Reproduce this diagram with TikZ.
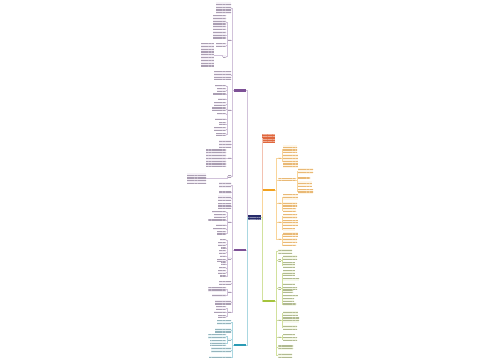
\documentclass[tikz,border=0pt]{standalone}
\usetikzlibrary{patterns.meta}

\definecolor{rootBlue}{HTML}{272C6B}
\definecolor{purpA}{HTML}{7D5196}
\definecolor{tealC}{HTML}{2A9BB5}
\definecolor{boxRed}{HTML}{E0673D}
\definecolor{orngE}{HTML}{F2A11E}
\definecolor{grnF}{HTML}{A5C43C}

\tikzset{sz/.style 2 args={minimum width=#1pt, minimum height=#2pt}}

\begin{document}
\begin{tikzpicture}[x=1pt, y=-1pt]
	\tikzstyle{baseStyle}=[rectangle, inner sep=0pt, outer sep=0pt, draw=none]
	\tikzstyle{rootStyle}=[baseStyle, preaction={fill=rootBlue}, pattern={Lines[distance=2.2pt, line width=0.7pt]}, pattern color=rootBlue!55!white]
	\tikzstyle{branchStyle}=[baseStyle]
	\tikzstyle{boxStyle}=[baseStyle, preaction={fill=boxRed}, pattern={Lines[distance=2.4pt, line width=0.9pt]}, pattern color=boxRed!55!white]
	\tikzstyle{leafP}=[baseStyle, preaction={fill=purpA!8}, pattern={Lines[distance=2.8pt, line width=1.3pt]}, pattern color=purpA!45!gray!65]
	\tikzstyle{leafT}=[baseStyle, preaction={fill=tealC!8}, pattern={Lines[distance=2.8pt, line width=1.3pt]}, pattern color=tealC!45!gray!65]
	\tikzstyle{leafO}=[baseStyle, preaction={fill=orngE!10}, pattern={Lines[distance=2.8pt, line width=1.3pt]}, pattern color=orngE!60!brown!65]
	\tikzstyle{leafG}=[baseStyle, preaction={fill=grnF!10}, pattern={Lines[distance=2.8pt, line width=1.3pt]}, pattern color=grnF!60!black!50]
	\tikzstyle{linkP}=[draw=purpA!35, line width=0.4pt]
	\tikzstyle{linkT}=[draw=tealC!40, line width=0.4pt]
	\tikzstyle{linkR}=[draw=boxRed!40, line width=0.4pt]
	\tikzstyle{linkO}=[draw=orngE!45, line width=0.4pt]
	\tikzstyle{linkG}=[draw=grnF!50, line width=0.4pt]

	\fill[white] (0,0) rectangle (500,360);
	\useasboundingbox (0,0) rectangle (500,360);

	% centre and main branches
	\node[rootStyle, sz={13}{4.5}] (root) at (254.5,217.5) {};
	\node[branchStyle, fill=purpA, sz={12}{3}] (pa) at (240,90) {};
	\node[branchStyle, fill=purpA, sz={12}{2.5}] (pb) at (240,250) {};
	\node[branchStyle, fill=tealC, sz={12}{2.5}] (tc) at (240,345) {};
	\node[boxStyle, sz={12.5}{8.5}] (rd) at (268.5,138.5) {};
	\node[branchStyle, fill=orngE, sz={12}{2.2}] (oe) at (268.5,190.3) {};
	\node[branchStyle, fill=grnF, sz={12}{2.2}] (gf) at (268.5,301) {};

	\draw[linkP] (root.west) -- ++(-1,0) |- (pa.east);
	\draw[linkP] (root.west) -- ++(-1,0) |- (pb.east);
	\draw[linkT] (root.west) -- ++(-1,0) |- (tc.east);
	\draw[linkR] (root.east) -- ++(1,0) |- (rd.west);
	\draw[linkO] (root.east) -- ++(1,0) |- (oe.west);
	\draw[linkG] (root.east) -- ++(1,0) |- (gf.west);

	% upper purple branch
	\node[leafP, sz={15}{12}, anchor=east] (a1) at (231,8) {};
	\node[leafP, sz={3}{2}, anchor=east] (a2) at (231,40) {};
	\node[leafP, sz={13}{14}, anchor=east] (a21) at (226,22) {};
	\node[leafP, sz={13}{8}, anchor=east] (a22) at (226,35) {};
	\node[leafP, sz={10}{2.2}, anchor=east] (a23) at (226,45) {};
	\node[leafP, sz={3}{2}, anchor=east] (a24) at (226,56) {};
	\node[leafP, sz={13}{24}, anchor=east] (a241) at (214,55) {};
	\node[leafP, sz={17}{8}, anchor=east] (a3) at (231,75) {};
	\node[leafP, sz={3}{2}, anchor=east] (a4) at (231,110) {};
	\node[leafP, sz={11}{2.2}, anchor=east] (a41) at (226,86) {};
	\node[leafP, sz={9}{2.2}, anchor=east] (a42) at (226,90) {};
	\node[leafP, sz={13}{2.2}, anchor=east] (a43) at (226,94) {};
	\node[leafP, sz={8}{2.2}, anchor=east] (a44) at (226,99) {};
	\node[leafP, sz={12}{2.2}, anchor=east] (a45) at (226,104) {};
	\node[leafP, sz={14}{2.2}, anchor=east] (a46) at (226,109) {};
	\node[leafP, sz={9}{2.2}, anchor=east] (a47) at (226,114) {};
	\node[leafP, sz={11}{2.2}, anchor=east] (a48) at (226,119) {};
	\node[leafP, sz={7}{2.2}, anchor=east] (a49) at (226,124) {};
	\node[leafP, sz={12}{2.2}, anchor=east] (a410) at (226,129) {};
	\node[leafP, sz={10}{2.2}, anchor=east] (a411) at (226,134) {};
	\node[leafP, sz={12}{8}, anchor=east] (a5) at (231,144) {};
	\node[leafP, sz={3}{2}, anchor=east] (a6) at (231,158) {};
	\node[leafP, sz={20}{17}, anchor=east] (a61) at (226,158) {};
	\node[leafP, sz={3}{2}, anchor=east] (a7) at (231,176) {};
	\node[leafP, sz={19}{10}, anchor=east] (a71) at (206,178) {};

	\foreach \c in {a1,a2,a3,a4,a5,a6,a7}
		\draw[linkP] (pa.west) -- ++(-1.5,0) |- (\c.east);
	\foreach \c in {a21,a22,a23,a24}
		\draw[linkP] (a2.west) -- ++(-1,0) |- (\c.east);
	\draw[linkP] (a24.west) -- ++(-1,0) |- (a241.east);
	\foreach \c in {a41,a42,a43,a44,a45,a46,a47,a48,a49,a410,a411}
		\draw[linkP] (a4.west) -- ++(-1,0) |- (\c.east);
	\draw[linkP] (a6.west) -- (a61.east);
	\draw[linkP] (a7.west) -- ++(-1,0) |- (a71.east);

	% lower purple branch
	\node[leafP, sz={12}{6}, anchor=east] (b1) at (231,185) {};
	\node[leafP, sz={12}{3}, anchor=east] (b2) at (231,192) {};
	\node[leafP, sz={13}{6}, anchor=east] (b3) at (231,198) {};
	\node[leafP, sz={13}{6}, anchor=east] (b4) at (231,206) {};
	\node[leafP, sz={3}{2}, anchor=east] (b5) at (231,222) {};
	\node[leafP, sz={14}{2.2}, anchor=east] (b51) at (226,212) {};
	\node[leafP, sz={12}{2.2}, anchor=east] (b52) at (226,216) {};
	\node[leafP, sz={18}{2.2}, anchor=east] (b53) at (226,220) {};
	\node[leafP, sz={10}{2.2}, anchor=east] (b54) at (226,225) {};
	\node[leafP, sz={13}{2.2}, anchor=east] (b55) at (226,229) {};
	\node[leafP, sz={9}{2.2}, anchor=east] (b56) at (226,233) {};
	\node[leafP, sz={3}{2}, anchor=east] (b6) at (231,258) {};
	\node[leafP, sz={6}{2.2}, anchor=east] (b61) at (226,240) {};
	\node[leafP, sz={8}{2.2}, anchor=east] (b62) at (226,244) {};
	\node[leafP, sz={5}{2.2}, anchor=east] (b63) at (226,248) {};
	\node[leafP, sz={7}{2.2}, anchor=east] (b64) at (226,252) {};
	\node[leafP, sz={6}{2.2}, anchor=east] (b65) at (226,256) {};
	\node[leafP, sz={9}{2.2}, anchor=east] (b66) at (226,260) {};
	\node[leafP, sz={5}{2.2}, anchor=east] (b67) at (226,264) {};
	\node[leafP, sz={7}{2.2}, anchor=east] (b68) at (226,268) {};
	\node[leafP, sz={8}{2.2}, anchor=east] (b69) at (226,272) {};
	\node[leafP, sz={6}{2.2}, anchor=east] (b610) at (226,276) {};
	\node[leafP, sz={12}{2.2}, anchor=east] (b7) at (231,283) {};
	\node[leafP, sz={3}{2}, anchor=east] (b8) at (231,292) {};
	\node[leafP, sz={18}{5}, anchor=east] (b81) at (226,289) {};
	\node[leafP, sz={14}{3}, anchor=east] (b82) at (226,295) {};
	\node[leafP, sz={16}{4}, anchor=east] (b9) at (231,302) {};
	\node[leafP, sz={3}{2}, anchor=east] (b10) at (231,312) {};
	\node[leafP, sz={10}{2.2}, anchor=east] (b101) at (226,308) {};
	\node[leafP, sz={12}{2.2}, anchor=east] (b102) at (226,312) {};
	\node[leafP, sz={8}{2.2}, anchor=east] (b103) at (226,316) {};

	\foreach \c in {b1,b2,b3,b4,b5,b6,b7,b8,b9,b10}
		\draw[linkP] (pb.west) -- ++(-1.5,0) |- (\c.east);
	\foreach \c in {b51,b52,b53,b54,b55,b56}
		\draw[linkP] (b5.west) -- ++(-1,0) |- (\c.east);
	\foreach \c in {b61,b62,b63,b64,b65,b66,b67,b68,b69,b610}
		\draw[linkP] (b6.west) -- ++(-1,0) |- (\c.east);
	\foreach \c in {b81,b82}
		\draw[linkP] (b8.west) -- ++(-1,0) |- (\c.east);
	\foreach \c in {b101,b102,b103}
		\draw[linkP] (b10.west) -- ++(-1,0) |- (\c.east);

	% teal branch
	\node[leafT, sz={14}{5}, anchor=east] (c1) at (231,322) {};
	\node[leafT, sz={16}{5}, anchor=east] (c2) at (231,330) {};
	\node[leafT, sz={3}{2}, anchor=east] (c3) at (231,339) {};
	\node[leafT, sz={18}{5}, anchor=east] (c31) at (226,336) {};
	\node[leafT, sz={16}{5}, anchor=east] (c32) at (226,343) {};
	\node[leafT, sz={20}{6}, anchor=east] (c4) at (231,350) {};
	\node[leafT, sz={22}{2.2}, anchor=east] (c5) at (231,357) {};

	\foreach \c in {c1,c2,c3,c4,c5}
		\draw[linkT] (tc.west) -- ++(-1.5,0) |- (\c.east);
	\foreach \c in {c31,c32}
		\draw[linkT] (c3.west) -- ++(-1,0) |- (\c.east);

	% orange branch
	\node[leafO, sz={3}{2}, anchor=west] (e1) at (278,158) {};
	\node[leafO, sz={14}{8}, anchor=west] (e11) at (283,149) {};
	\node[leafO, sz={15}{14}, anchor=west] (e12) at (283,161) {};
	\node[leafO, sz={18}{2.2}, anchor=west] (e2) at (278,180) {};
	\node[leafO, sz={15}{6}, anchor=west] (e21) at (298,171) {};
	\node[leafO, sz={12}{2.2}, anchor=west] (e22) at (298,178) {};
	\node[leafO, sz={14}{6}, anchor=west] (e23) at (298,184) {};
	\node[leafO, sz={15}{5}, anchor=west] (e24) at (298,191) {};
	\node[leafO, sz={3}{2}, anchor=west] (e3) at (278,203) {};
	\node[leafO, sz={15}{5}, anchor=west] (e31) at (283,197) {};
	\node[leafO, sz={14}{5}, anchor=west] (e32) at (283,204) {};
	\node[leafO, sz={13}{3}, anchor=west] (e33) at (283,210) {};
	\node[leafO, sz={3}{2}, anchor=west] (e4) at (278,222) {};
	\node[leafO, sz={14}{5}, anchor=west] (e41) at (283,216) {};
	\node[leafO, sz={15}{5}, anchor=west] (e42) at (283,223) {};
	\node[leafO, sz={12}{3}, anchor=west] (e43) at (283,229) {};
	\node[leafO, sz={3}{2}, anchor=west] (e5) at (278,239) {};
	\node[leafO, sz={15}{4}, anchor=west] (e51) at (283,234) {};
	\node[leafO, sz={14}{4}, anchor=west] (e52) at (283,240) {};
	\node[leafO, sz={13}{2.2}, anchor=west] (e53) at (283,245) {};

	\foreach \c in {e1,e2,e3,e4,e5}
		\draw[linkO] (oe.east) -- ++(1.5,0) |- (\c.west);
	\foreach \c in {e11,e12}
		\draw[linkO] (e1.east) -- ++(1,0) |- (\c.west);
	\foreach \c in {e21,e22,e23,e24}
		\draw[linkO] (e2.east) -- ++(1,0) |- (\c.west);
	\foreach \c in {e31,e32,e33}
		\draw[linkO] (e3.east) -- ++(1,0) |- (\c.west);
	\foreach \c in {e41,e42,e43}
		\draw[linkO] (e4.east) -- ++(1,0) |- (\c.west);
	\foreach \c in {e51,e52,e53}
		\draw[linkO] (e5.east) -- ++(1,0) |- (\c.west);

	% green branch
	\node[leafG, sz={14}{4}, anchor=west] (f1) at (278,251) {};
	\node[leafG, sz={3}{2}, anchor=west] (f2) at (278,260) {};
	\node[leafG, sz={14}{5}, anchor=west] (f21) at (283,257) {};
	\node[leafG, sz={12}{5}, anchor=west] (f22) at (283,265) {};
	\node[leafG, sz={3}{2}, anchor=west] (f3) at (278,288) {};
	\node[leafG, sz={12}{5}, anchor=west] (f31) at (283,273) {};
	\node[leafG, sz={16}{3}, anchor=west] (f32) at (283,279) {};
	\node[leafG, sz={12}{2.2}, anchor=west] (f33) at (283,284) {};
	\node[leafG, sz={14}{2.2}, anchor=west] (f34) at (283,288) {};
	\node[leafG, sz={10}{2.2}, anchor=west] (f35) at (283,292) {};
	\node[leafG, sz={15}{2.2}, anchor=west] (f36) at (283,296) {};
	\node[leafG, sz={11}{2.2}, anchor=west] (f37) at (283,300) {};
	\node[leafG, sz={13}{3}, anchor=west] (f38) at (283,304) {};
	\node[leafG, sz={3}{2}, anchor=west] (f4) at (278,320) {};
	\node[leafG, sz={15}{5}, anchor=west] (f41) at (283,313) {};
	\node[leafG, sz={16}{5}, anchor=west] (f42) at (283,320) {};
	\node[leafG, sz={14}{5}, anchor=west] (f43) at (283,327) {};
	\node[leafG, sz={3}{2}, anchor=west] (f5) at (278,337) {};
	\node[leafG, sz={12}{2.2}, anchor=west] (f51) at (283,335) {};
	\node[leafG, sz={14}{2.2}, anchor=west] (f52) at (283,339) {};
	\node[leafG, sz={15}{5}, anchor=west] (f6) at (278,347) {};
	\node[leafG, sz={14}{5}, anchor=west] (f7) at (278,355) {};

	\foreach \c in {f1,f2,f3,f4,f5,f6,f7}
		\draw[linkG] (gf.east) -- ++(1.5,0) |- (\c.west);
	\foreach \c in {f21,f22}
		\draw[linkG] (f2.east) -- ++(1,0) |- (\c.west);
	\foreach \c in {f31,f32,f33,f34,f35,f36,f37,f38}
		\draw[linkG] (f3.east) -- ++(1,0) |- (\c.west);
	\foreach \c in {f41,f42,f43}
		\draw[linkG] (f4.east) -- ++(1,0) |- (\c.west);
	\foreach \c in {f51,f52}
		\draw[linkG] (f5.east) -- ++(1,0) |- (\c.west);
\end{tikzpicture}
\end{document}
